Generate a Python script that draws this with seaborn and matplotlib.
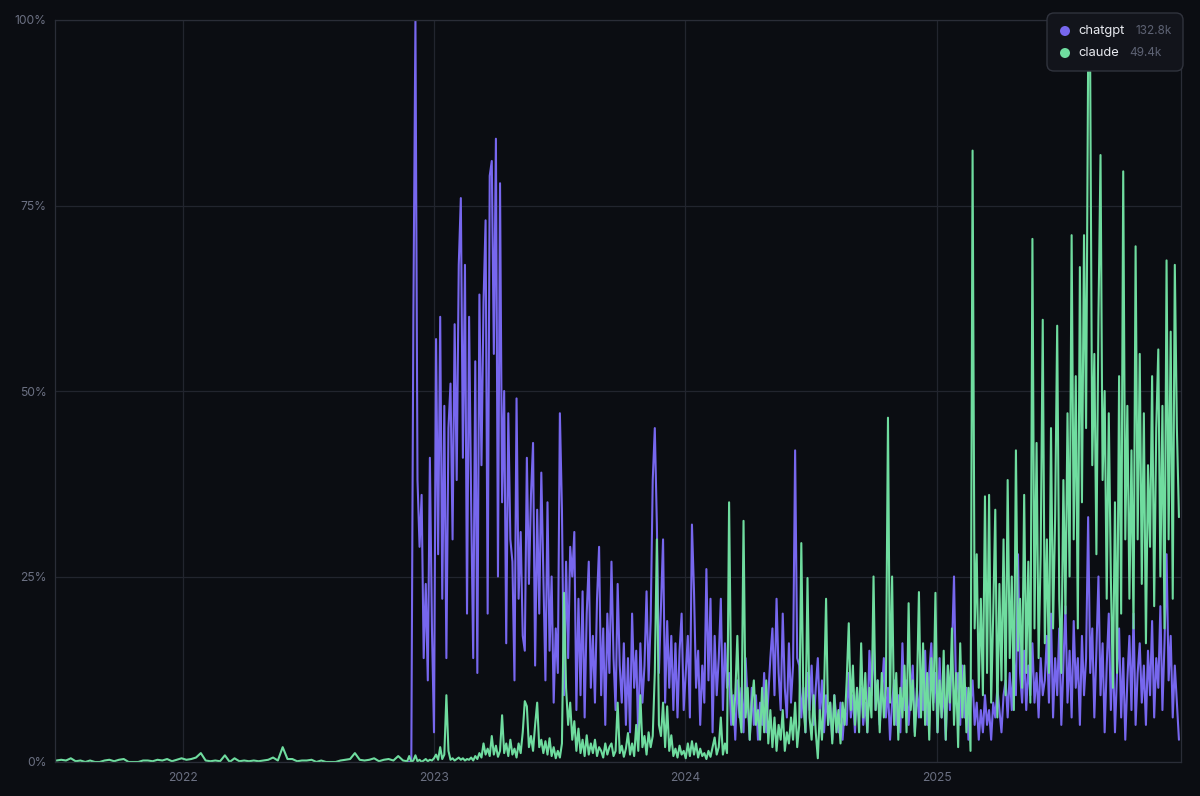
import numpy as np
import pandas as pd
import matplotlib
matplotlib.use("Agg")
import matplotlib.pyplot as plt
import matplotlib.dates as mdates
from matplotlib.ticker import FuncFormatter
from matplotlib.patches import FancyBboxPatch, Circle
import seaborn as sns

# --- data (share of daily mentions, %) ---
# claude before the chatgpt launch, one value per week from 2021-07-01
claude_early = [
    0.2, 0.3, 0.2, 0.5, 0.1, 0.2, 0, 0.2, 0, 0,
    0.2, 0.3, 0.1, 0.3, 0.4, 0, 0, 0, 0.2, 0.2,
    0.1, 0.3, 0.2, 0.4, 0.1, 0.3, 0.5, 0.3, 0.4, 0.6,
    1.2, 0.2, 0.1, 0.2, 0.1, 0.9, 0, 0.5, 0.1, 0.2,
    0.1, 0.2, 0.1, 0.2, 0.3, 0.6, 0.2, 2.0, 0.4, 0.4,
    0.1, 0.2, 0.2, 0.3, 0, 0.2, 0, 0, 0, 0.2,
    0.3, 0.4, 1.2, 0.3, 0.2, 0.3, 0.5, 0.1, 0.3, 0.4,
    0.2, 0.8, 0.2,
]

# both series, one value every 3 days from 2022-11-23
chatgpt = [
    0, 0, 0, 60, 100, 38, 29, 36, 14, 24,
    11, 41, 18, 4, 57, 28, 60, 22, 48, 14,
    45, 51, 30, 59, 38, 67, 76, 41, 67, 20,
    60, 35, 14, 54, 12, 63, 40, 62, 73, 20,
    79, 81, 55, 84, 25, 78, 35, 50, 16, 47,
    30, 27, 11, 49, 22, 31, 17, 15, 41, 24,
    36, 43, 13, 34, 20, 39, 25, 11, 35, 15,
    25, 8, 18, 12, 47, 34, 9, 27, 14, 29,
    25, 31, 7, 22, 9, 23, 6, 20, 27, 10,
    17, 8, 22, 29, 9, 18, 5, 20, 12, 27,
    14, 7, 24, 13, 8, 16, 5, 14, 4, 20,
    10, 15, 3, 16, 8, 13, 23, 11, 19, 38,
    45, 32, 12, 21, 30, 8, 19, 10, 17, 7,
    16, 6, 15, 20, 7, 12, 17, 6, 32, 23,
    10, 15, 5, 13, 8, 26, 11, 22, 4, 17,
    9, 14, 22, 7, 16, 10, 12, 5, 9, 3,
    11, 6, 10, 4, 14, 8, 3, 10, 5, 9,
    3, 8, 5, 12, 4, 9, 14, 18, 9, 22,
    12, 7, 20, 10, 6, 16, 8, 13, 42, 14,
    13, 6, 10, 4, 12, 7, 13, 5, 10, 14,
    6, 11, 4, 9, 5, 8, 3, 9, 6, 4,
    8, 3, 7, 5, 12, 6, 9, 4, 10, 6,
    10, 5, 8, 4, 15, 9, 17, 7, 11, 5,
    9, 14, 6, 10, 3, 8, 11, 5, 9, 4,
    16, 7, 11, 5, 9, 13, 4, 10, 6, 12,
    7, 15, 5, 12, 16, 8, 12, 4, 14, 6,
    10, 3, 13, 7, 15, 25, 9, 12, 5, 13,
    6, 10, 3, 8, 11, 5, 8, 3, 7, 4,
    9, 5, 7, 3, 8, 6, 10, 7, 4, 9,
    11, 6, 12, 7, 14, 9, 28, 12, 8, 15,
    7, 13, 9, 16, 8, 12, 6, 14, 9, 11,
    17, 8, 20, 6, 14, 9, 18, 5, 13, 21,
    8, 15, 6, 19, 10, 14, 5, 17, 9, 14,
    33, 12, 18, 6, 15, 25, 9, 16, 4, 13,
    20, 7, 15, 4, 12, 18, 6, 14, 3, 11,
    17, 7, 20, 5, 12, 16, 8, 13, 5, 15,
    9, 19, 6, 14, 10, 21, 7, 16, 28, 11,
    17, 6, 13, 8, 3,
]

claude = [
    0.1, 0.8, 0, 0.2, 0.9, 0.1, 0.3, 0, 0.2, 0.4,
    0.1, 0.3, 0.2, 0.5, 1.0, 0.3, 2.0, 0.4, 1.0, 9.0,
    1.5, 0.3, 0.5, 0.2, 0.4, 0.6, 0.3, 0.5, 0.2, 0.4,
    0.3, 0.6, 0.2, 0.8, 0.4, 1.2, 0.6, 2.5, 1.0, 1.8,
    0.8, 3.5, 1.0, 2.2, 0.7, 1.5, 6.3, 1.2, 2.5, 0.8,
    3.0, 1.0, 1.8, 0.6, 2.5, 1.2, 4.0, 8.2, 7.5, 2.0,
    3.5, 1.5, 5.0, 8.0, 2.0, 3.0, 1.2, 2.8, 1.0, 3.2,
    0.8, 2.0, 0.5, 1.5, 0.6, 2.5, 22.8, 10.0, 5.0, 8.0,
    3.0, 5.5, 1.5, 4.5, 1.2, 3.0, 0.8, 3.6, 1.0, 2.5,
    1.2, 3.0, 0.8, 2.0, 1.5, 0.6, 2.5, 1.0, 2.0, 2.5,
    0.8, 1.5, 8.0, 1.2, 2.2, 0.7, 1.8, 3.9, 1.0, 2.5,
    0.8, 5.0, 1.5, 9.0, 2.0, 3.5, 1.0, 4.0, 2.0, 3.5,
    12.0, 30.0, 5.0, 3.5, 8.0, 2.0, 7.5, 1.5, 3.6, 0.8,
    1.8, 0.6, 2.2, 1.0, 1.5, 0.5, 2.5, 0.8, 2.8, 1.0,
    2.5, 0.6, 1.8, 0.8, 1.2, 0.4, 1.5, 0.7, 2.0, 3.3,
    1.0, 2.0, 6.0, 1.0, 2.5, 1.2, 35.0, 10.0, 5.0, 9.0,
    17.0, 7.0, 4.0, 32.5, 6.0, 10.0, 3.0, 8.0, 11.0, 5.0,
    7.0, 3.0, 10.0, 4.0, 11.0, 2.5, 7.0, 2.0, 6.0, 1.5,
    5.0, 3.0, 7.0, 1.5, 4.0, 2.5, 6.0, 3.0, 8.0, 2.0,
    5.0, 29.5, 8.0, 4.0, 24.8, 6.0, 3.0, 9.0, 4.0, 0.5,
    7.0, 3.0, 9.0, 22.0, 5.0, 8.0, 2.5, 9.0, 4.0, 7.0,
    2.5, 8.0, 5.0, 11.0, 18.7, 7.0, 13.0, 5.0, 10.0, 4.0,
    16.0, 6.0, 12.0, 4.0, 10.0, 6.0, 25.0, 7.0, 11.0, 4.0,
    12.0, 6.0, 10.0, 46.4, 8.0, 25.0, 5.0, 12.0, 3.0, 10.0,
    6.0, 13.0, 4.0, 21.4, 7.0, 11.0, 3.5, 9.0, 22.9, 6.0,
    16.0, 5.0, 12.0, 3.0, 14.0, 7.0, 22.8, 4.0, 11.0, 6.0,
    15.0, 3.0, 13.0, 8.0, 18.0, 5.0, 12.0, 2.0, 16.0, 6.0,
    13.0, 4.0, 10.0, 1.5, 82.4, 18.0, 28.0, 10.0, 22.0, 9.0,
    35.8, 12.0, 36.0, 8.0, 20.0, 34.0, 6.0, 24.0, 11.0, 30.0,
    9.0, 38.0, 14.0, 25.0, 7.0, 42.0, 15.0, 22.0, 10.0, 36.0,
    12.0, 27.0, 8.0, 70.5, 18.0, 43.0, 14.0, 28.0, 59.6, 16.0,
    30.0, 12.0, 45.0, 18.0, 33.0, 58.8, 22.0, 12.0, 38.0, 20.0,
    47.0, 25.0, 71.0, 30.0, 52.0, 18.0, 66.7, 35.0, 71.0, 45.0,
    95.0, 93.0, 40.0, 55.0, 28.0, 60.0, 81.8, 38.0, 50.0, 22.0,
    47.0, 25.0, 10.0, 35.0, 12.0, 52.0, 20.0, 79.6, 30.0, 48.0,
    22.0, 42.0, 18.0, 69.5, 30.0, 55.0, 24.0, 47.0, 16.0, 40.0,
    29.0, 52.0, 21.0, 45.0, 55.6, 25.0, 48.0, 18.0, 67.6, 30.0,
    58.0, 22.0, 67.0, 45.0, 33.0,
]

early_start = "2021-07-01"
series_start = "2022-11-23"
tools = ["chatgpt", "claude"]
totals = ["132.8k", "49.4k"]
year_ticks = ["2022-01-01", "2023-01-01", "2024-01-01", "2025-01-01"]
pct_ticks = [0, 25, 50, 75, 100]

BG = "#0b0d12"
GRID = "#22252e"
TICK = "#6b7082"
COLORS = {"chatgpt": "#7767ee", "claude": "#6fdc9f"}


def build_frame():
    early_dates = pd.date_range(early_start, periods=len(claude_early), freq="7D")
    dates = pd.date_range(series_start, periods=len(chatgpt), freq="3D")
    return pd.concat([
        pd.DataFrame({"date": dates, "share": chatgpt, "tool": "chatgpt"}),
        pd.DataFrame({"date": early_dates, "share": claude_early, "tool": "claude"}),
        pd.DataFrame({"date": dates, "share": claude, "tool": "claude"}),
    ], ignore_index=True)


sns.set_style("dark", rc={"axes.facecolor": BG, "figure.facecolor": BG})
plt.rcParams['font.family'] = ['Inter', 'DejaVu Sans']

df = build_frame()

fig = plt.figure(figsize=(12, 7.96), dpi=100)
ax = fig.add_axes([55 / 1200, 1 - 762 / 796, (1181 - 55) / 1200, (762 - 20) / 796])

sns.lineplot(data=df, x="date", y="share", hue="tool", hue_order=tools,
             palette=COLORS, estimator=None, linewidth=1.5, legend=False, ax=ax)

ax.set_xlim(pd.Timestamp("2021-06-29"), pd.Timestamp("2025-12-22"))
ax.set_ylim(0, 100)
ax.set_xticks(pd.to_datetime(year_ticks))
ax.xaxis.set_major_formatter(mdates.DateFormatter("%Y"))
ax.set_yticks(pct_ticks)
ax.yaxis.set_major_formatter(FuncFormatter(lambda v, _: f"{v:.0f}%"))
ax.set_xlabel("")
ax.set_ylabel("")

ax.grid(True, color=GRID, linewidth=0.9)
ax.set_axisbelow(True)
for side in ax.spines.values():
    side.set_visible(True)
    side.set_color("#2a2d37")
    side.set_linewidth(0.9)
ax.tick_params(length=0, labelcolor=TICK, labelsize=8.7)
ax.tick_params(axis="y", pad=6)
ax.tick_params(axis="x", pad=7)

# legend card (pixels -> inches via dpi_scale_trans)
tr = fig.dpi_scale_trans
card = FancyBboxPatch((10.47, 7.25), 1.36, 0.58, boxstyle="round,pad=0,rounding_size=0.07",
                      transform=tr, facecolor="#12141b", edgecolor="#30333d",
                      linewidth=1.0, zorder=10)
fig.patches.append(card)
for row, (name, total) in enumerate(zip(tools, totals)):
    y = 7.65 - row * 0.22
    fig.patches.append(Circle((10.65, y), 0.05, transform=tr,
                              facecolor=COLORS[name], edgecolor="none", zorder=11))
    fig.text(10.78, y, name, transform=tr, color="#e8eaf0", fontsize=9.3,
             va="center", ha="left", zorder=12)
    fig.text(11.35 if row == 0 else 11.29, y, total, transform=tr,
             color="#5d6273", fontsize=8.5, va="center", ha="left", zorder=12)

plt.savefig("out.png", dpi=100, facecolor=BG)
